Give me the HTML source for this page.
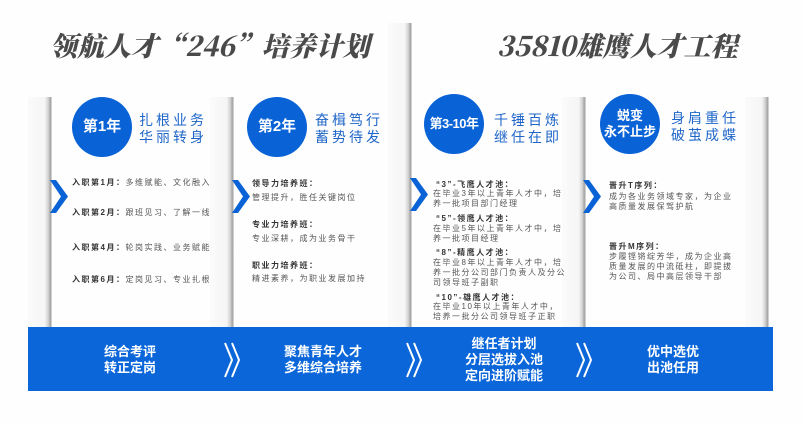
<!DOCTYPE html>
<html><head><meta charset="utf-8"><style>
*{margin:0;padding:0;box-sizing:border-box}
body{width:803px;height:423px;background:#fefefe;position:relative;overflow:hidden;font-family:"Liberation Sans","Noto Sans CJK SC",sans-serif}
.strip{position:absolute;background:linear-gradient(to right,#fbfbfb 0,#f5f5f5 70%,#c8c8c8 88%,#999 92%,#e4e4e4 100%)}
.title{position:absolute;font-family:"Noto Serif CJK SC","WenQuanYi Zen Hei",serif;font-weight:900;font-size:27px;color:#4a4a4a;font-style:italic;white-space:nowrap}
.circ{position:absolute;width:60px;height:60px;border-radius:50%;background:#0a63d6;color:#fff;font-weight:bold;display:flex;align-items:center;justify-content:center;text-align:center;line-height:16px}
.head{position:absolute;color:#1f66c8;font-size:14px;letter-spacing:3px;line-height:17px}
.chev{position:absolute;width:18px;height:33px}
.t{position:absolute;font-size:8px;color:#555;letter-spacing:1.5px;white-space:nowrap;line-height:10px}
.t b{color:#333}
.band{position:absolute;left:28px;top:327px;width:745px;height:64px;background:#0a66d9}
.bt{position:absolute;color:#fff;font-weight:bold;font-size:13px;line-height:16px;text-align:center;transform:translateX(-50%);white-space:nowrap}
.arr{position:absolute;top:342px;width:17px;height:36px}
</style></head><body>
<div class="strip" style="left:28px;top:97px;width:24px;height:230px"></div>
<div class="strip" style="left:210px;top:97px;width:24px;height:230px"></div>
<div class="strip" style="left:388px;top:23px;width:24px;height:304px"></div>
<div class="strip" style="left:562px;top:97px;width:24px;height:230px"></div>
<div class="strip" style="left:745px;top:97px;width:24px;height:230px"></div>

<div class="title" style="left:50px;top:25px">领航人才“246”培养计划</div>
<div class="title" style="left:497px;top:25px">35810雄鹰人才工程</div>

<div class="circ" style="left:72px;top:97px;font-size:15px">第1年</div>
<div class="head" style="left:139px;top:112px">扎根业务<br>华丽转身</div>
<div class="circ" style="left:247px;top:97px;font-size:15px">第2年</div>
<div class="head" style="left:315px;top:112px">奋楫笃行<br>蓄势待发</div>
<div class="circ" style="left:424px;top:94px;font-size:13px;letter-spacing:-0.5px">第3-10年</div>
<div class="head" style="left:494px;top:112px">千锤百炼<br>继任在即</div>
<div class="circ" style="left:600px;top:94px;font-size:13px">蜕变<br>永不止步</div>
<div class="head" style="left:671px;top:110px">身肩重任<br>破茧成蝶</div>

<svg class="chev" style="left:50px;top:180px" viewBox="0 0 18 33"><polygon points="0,0 6,0 18,16.5 6,33 0,33 11,16.5" fill="#0a63d6"/></svg>
<svg class="chev" style="left:232px;top:180px" viewBox="0 0 18 33"><polygon points="0,0 6,0 18,16.5 6,33 0,33 11,16.5" fill="#0a63d6"/></svg>
<svg class="chev" style="left:410px;top:178px" viewBox="0 0 18 33"><polygon points="0,0 6,0 18,16.5 6,33 0,33 11,16.5" fill="#0a63d6"/></svg>
<svg class="chev" style="left:583px;top:180px" viewBox="0 0 18 33"><polygon points="0,0 6,0 18,16.5 6,33 0,33 11,16.5" fill="#0a63d6"/></svg>

<div style="position:absolute;left:72px;top:0;width:138px;height:330px;overflow:hidden">
<div class="t" style="left:0;top:178px"><b>入职第1月：</b>多维赋能、文化融入</div>
<div class="t" style="left:0;top:208px"><b>入职第2月：</b>跟班见习、了解一线</div>
<div class="t" style="left:0;top:243px"><b>入职第4月：</b>轮岗实践、业务赋能</div>
<div class="t" style="left:0;top:275px"><b>入职第6月：</b>定岗见习、专业扎根</div>
</div>

<div class="t" style="left:252px;top:179px"><b>领导力培养班：</b></div>
<div class="t" style="left:252px;top:193px">管理提升，胜任关键岗位</div>
<div class="t" style="left:252px;top:220px"><b>专业力培养班：</b></div>
<div class="t" style="left:252px;top:234px">专业深耕，成为业务骨干</div>
<div class="t" style="left:252px;top:261px"><b>职业力培养班：</b></div>
<div class="t" style="left:252px;top:274px">精进素养，为职业发展加持</div>

<div class="t" style="left:436px;top:180px"><b>“3”-飞鹰人才池：</b></div>
<div class="t" style="left:433px;top:189px">在毕业3年以上青年人才中，培<br>养一批项目部门经理</div>
<div class="t" style="left:436px;top:214px"><b>“5”-领鹰人才池：</b></div>
<div class="t" style="left:433px;top:224px">在毕业5年以上青年人才中，培<br>养一批项目经理</div>
<div class="t" style="left:436px;top:248px"><b>“8”-精鹰人才池：</b></div>
<div class="t" style="left:433px;top:258px">在毕业8年以上青年人才中，培<br>养一批分公司部门负责人及分公<br>司领导班子副职</div>
<div class="t" style="left:436px;top:293px"><b>“10”-雄鹰人才池：</b></div>
<div class="t" style="left:433px;top:302px">在毕业10年以上青年人才中，<br>培养一批分公司领导班子正职</div>

<div class="t" style="left:609px;top:181px"><b>晋升T序列：</b></div>
<div class="t" style="left:609px;top:192px">成为各业务领域专家，为企业<br>高质量发展保驾护航</div>
<div class="t" style="left:609px;top:242px"><b>晋升M序列：</b></div>
<div class="t" style="left:609px;top:252px">步履铿锵绽芳华，成为企业高<br>质量发展的中流砥柱，即提拔<br>为公司、局中高层领导干部</div>

<div class="band"></div>
<div class="bt" style="left:130px;top:344px">综合考评<br>转正定岗</div>
<svg class="arr" style="left:224px" viewBox="0 0 17 36"><polyline points="1,1 8,18 1,35" fill="none" stroke="#fff" stroke-width="2"/><polyline points="8,1 15,18 8,35" fill="none" stroke="#fff" stroke-width="2"/></svg>
<div class="bt" style="left:323px;top:344px">聚焦青年人才<br>多维综合培养</div>
<svg class="arr" style="left:406px" viewBox="0 0 17 36"><polyline points="1,1 8,18 1,35" fill="none" stroke="#fff" stroke-width="2"/><polyline points="8,1 15,18 8,35" fill="none" stroke="#fff" stroke-width="2"/></svg>
<div class="bt" style="left:504px;top:336px">继任者计划<br>分层选拔入池<br>定向进阶赋能</div>
<svg class="arr" style="left:576px" viewBox="0 0 17 36"><polyline points="1,1 8,18 1,35" fill="none" stroke="#fff" stroke-width="2"/><polyline points="8,1 15,18 8,35" fill="none" stroke="#fff" stroke-width="2"/></svg>
<div class="bt" style="left:673px;top:344px">优中选优<br>出池任用</div>
</body></html>
